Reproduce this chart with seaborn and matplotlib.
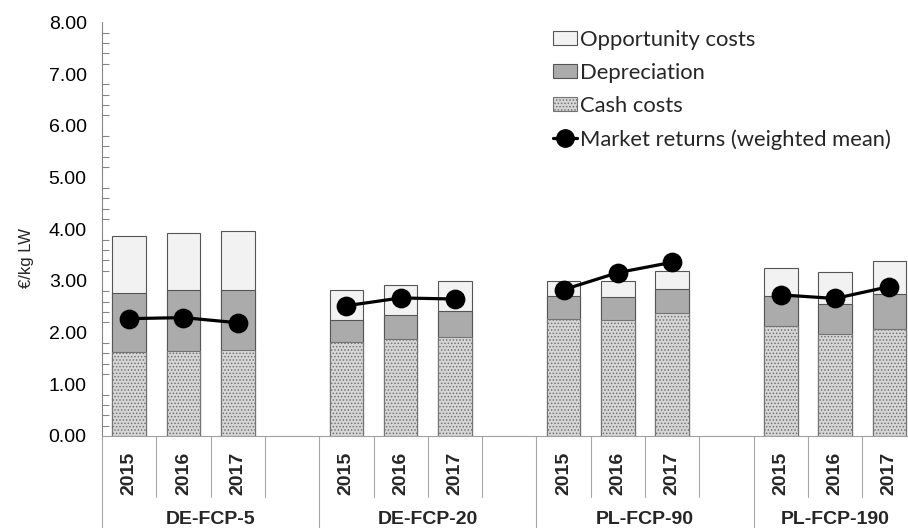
import numpy as np
import pandas as pd
import matplotlib
matplotlib.use("Agg")
import matplotlib.pyplot as plt
import matplotlib.transforms as mtransforms
from matplotlib.patches import Patch
from matplotlib.lines import Line2D
from matplotlib.ticker import MultipleLocator, FormatStrFormatter
import seaborn as sns

# ---------------- data ----------------
farms = ["DE-FCP-5", "DE-FCP-20", "PL-FCP-90", "PL-FCP-190"]
years = ["2015", "2016", "2017"]
cash_costs = [1.62, 1.64, 1.66, 1.81, 1.87, 1.92, 2.26, 2.24, 2.37, 2.13, 1.97, 2.07]
depreciation = [1.14, 1.18, 1.17, 0.44, 0.48, 0.50, 0.44, 0.44, 0.48, 0.58, 0.59, 0.67]
opportunity_costs = [1.10, 1.11, 1.14, 0.57, 0.58, 0.58, 0.29, 0.31, 0.35, 0.54, 0.62, 0.65]
market_returns = [2.27, 2.29, 2.19, 2.52, 2.67, 2.65, 2.83, 3.16, 3.36, 2.73, 2.66, 2.89]

rows = []
i = 0
for f in farms:
    for y in years:
        rows.append(dict(farm=f, year=y, slot=f"{f} {y}",
                         cash=cash_costs[i], dep=depreciation[i],
                         opp=opportunity_costs[i], market=market_returns[i]))
        i += 1
df = pd.DataFrame(rows)
df["dep_top"] = df["cash"] + df["dep"]
df["total"] = df["dep_top"] + df["opp"]

order = []
tick_labels = []
group_centers = []
for gi, f in enumerate(farms):
    start = len(order)
    for y in years:
        order.append(f"{f} {y}")
        tick_labels.append(y)
    if gi < len(farms) - 1:
        order.append(f"gap{gi}")
        tick_labels.append("")
        group_centers.append(start + 1.5)
    else:
        group_centers.append(start + 1.0)

# ---------------- style ----------------
sns.set_style("white")
plt.rcParams["font.family"] = ["Liberation Sans", "DejaVu Sans"]
plt.rcParams["hatch.linewidth"] = 0.7

W, H = 908, 528
fig = plt.figure(figsize=(W / 100, H / 100), dpi=100)
ax_left, ax_right, ax_bottom, ax_top = 102, 916.5, 436, 22.4
ax = fig.add_axes([ax_left / W, 1 - ax_bottom / H,
                   (ax_right - ax_left) / W, (ax_bottom - ax_top) / H])

opp_color = "#F2F2F2"
dep_color = "#ABABAB"
cash_color = "#D6D6D6"
cash_edge = "#747474"
edge = "#555555"

sns.barplot(data=df, x="slot", y="total", order=order, color=opp_color,
            edgecolor=edge, linewidth=0.8, width=0.62, errorbar=None,
            saturation=1, ax=ax)
sns.barplot(data=df, x="slot", y="dep_top", order=order, color=dep_color,
            edgecolor=edge, linewidth=0.8, width=0.62, errorbar=None,
            saturation=1, ax=ax)
sns.barplot(data=df, x="slot", y="cash", order=order, color=cash_color,
            edgecolor=cash_edge, linewidth=0.8, width=0.62, errorbar=None,
            saturation=1, hatch=".....", ax=ax)

sns.pointplot(data=df, x="slot", y="market", hue="farm", order=order,
              hue_order=farms, palette={f: "black" for f in farms},
              markers="o", markersize=12.5, linewidth=2.3, errorbar=None,
              legend=False, ax=ax)

# ---------------- axes ----------------
ax.set_xlim(-0.5, len(order) - 0.5)
ax.set_ylim(0, 8)
ax.yaxis.set_major_locator(MultipleLocator(1))
ax.yaxis.set_minor_locator(MultipleLocator(0.2))
ax.yaxis.set_major_formatter(FormatStrFormatter("%.2f"))
ax.tick_params(axis="y", which="major", direction="inout", length=9,
               width=0.8, color="#868686", labelsize=14, pad=6.5, labelcolor="#000000")
ax.tick_params(axis="y", which="minor", direction="in", length=5,
               width=0.8, color="#868686", left=True)
ax.set_xticks(range(len(order)))
ax.set_xticklabels(tick_labels, rotation=90, fontweight="bold", fontsize=14)
ax.tick_params(axis="x", length=0, pad=11)
ax.set_xlabel("")
ax.set_ylabel("€/kg LW", fontsize=12)
ax.yaxis.set_label_coords(-0.084, 0.43)

for s in ["top", "right"]:
    ax.spines[s].set_visible(False)
ax.spines["left"].set_color("#868686")
ax.spines["left"].set_linewidth(0.8)
ax.spines["bottom"].set_color("#A0A0A0")
ax.spines["bottom"].set_linewidth(0.8)

# category separators below the axis
ax_h = ax_bottom - ax_top
trans = mtransforms.blended_transform_factory(ax.transData, ax.transAxes)
for k in range(len(order) + 1):
    xb = k - 0.5
    label_left = order[k - 1] if k > 0 else None
    is_group = (k == 0) or (label_left is not None and label_left.startswith("gap"))
    depth = 100 if is_group else 61
    ax.plot([xb, xb], [0, -depth / ax_h], transform=trans, color="#A6A6A6",
            lw=0.8, clip_on=False)

for f, c in zip(farms, group_centers):
    ax.annotate(f, xy=(c, 0), xycoords=trans, xytext=(0, -84 * 0.72),
                textcoords="offset points", ha="center", va="center",
                fontsize=14, fontweight="bold", annotation_clip=False)

# ---------------- legend ----------------
handles = [
    Patch(facecolor=opp_color, edgecolor=edge, linewidth=0.8),
    Patch(facecolor=dep_color, edgecolor=edge, linewidth=0.8),
    Patch(facecolor=cash_color, edgecolor=cash_edge, linewidth=0.8, hatch="....."),
    Line2D([], [], color="black", marker="o", markersize=12.5, linewidth=2.3),
]
labels = ["Opportunity costs", "Depreciation", "Cash costs",
          "Market returns (weighted mean)"]
fig.legend(handles, labels, loc="upper left",
           bbox_to_anchor=(553 / W, 1 - 29.5 / H), frameon=False,
           prop={"family": "Lato", "size": 15.8}, borderpad=0,
           borderaxespad=0, handlelength=1.1, handleheight=0.62,
           handletextpad=0.15, labelspacing=0.6)

fig.savefig("out.png", dpi=100)
